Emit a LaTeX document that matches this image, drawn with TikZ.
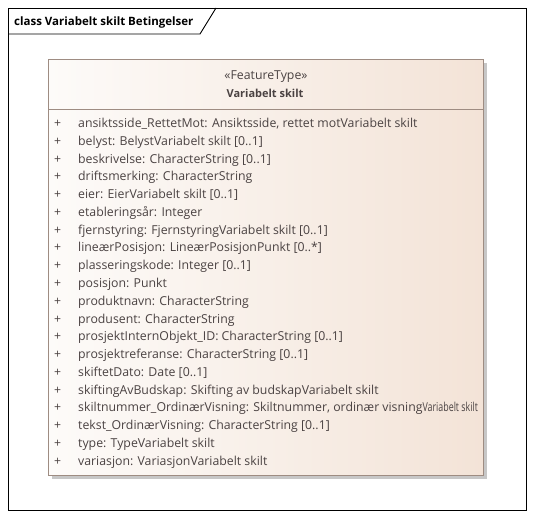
\documentclass[tikz,border=0pt]{standalone}
\usepackage{fontspec}
\setmainfont{Open Sans}
\usetikzlibrary{positioning,shadows}

\definecolor{umlline}{HTML}{9E8C82}
\definecolor{umltext}{HTML}{4A4242}
\definecolor{umlfillL}{HTML}{FDFBF9}
\definecolor{umlfillR}{HTML}{F3E3D7}

\begin{document}
\begin{tikzpicture}[
  x=1pt,y=-1pt,
  frame/.style={draw=black,line width=0.9pt},
  classbox/.style={draw=umlline,line width=0.8pt,left color=umlfillL,right color=umlfillR,
    anchor=north west,inner sep=0pt,
    drop shadow={shadow xshift=3.5pt,shadow yshift=-3.5pt,fill=black!22,opacity=1}},
  attr/.style={anchor=base west,inner sep=0pt,text=umltext,font=\fontsize{12.3}{14}\selectfont},
  every node/.style={text=umltext}
]
  \useasboundingbox (0,0) rectangle (534,519);

  % diagram frame with name tab
  \draw[frame] (8,8) rectangle (526,510);
  \coordinate (tabL) at (8,34);
  \coordinate (tabK) at (200,34);
  \coordinate (tabT) at (216,8);
  \draw[frame] (tabL) -- (tabK) -- (tabT);
  \node[anchor=base west,inner sep=0pt,text=black,font=\bfseries\fontsize{11.5}{13}\selectfont]
    (title) at (14,25.5) {class Variabelt skilt Betingelser};

  % the class
  \node[classbox,minimum width=435pt,minimum height=416pt] (cls) at (48,59) {};
  \coordinate (sepL) at (48,109);
  \coordinate (sepR) at (483,109);
  \draw[umlline,line width=0.8pt] (sepL) -- (sepR);
  \node[anchor=base,inner sep=0pt,font=\fontsize{12.3}{14}\selectfont] (stereo) at (266,79.5) {«FeatureType»};
  \node[anchor=base,inner sep=0pt,font=\bfseries\fontsize{11}{13}\selectfont] (cname) at (265,97.5) {Variabelt skilt};

  \foreach \txt [count=\i from 0] in {
    {ansiktsside\_RettetMot: Ansiktsside, rettet motVariabelt skilt},
    {belyst: BelystVariabelt skilt [0..1]},
    {beskrivelse: CharacterString [0..1]},
    {driftsmerking: CharacterString},
    {eier: EierVariabelt skilt [0..1]},
    {etableringsår: Integer},
    {fjernstyring: FjernstyringVariabelt skilt [0..1]},
    {lineærPosisjon: LineærPosisjonPunkt [0..*]},
    {plasseringskode: Integer [0..1]},
    {posisjon: Punkt},
    {produktnavn: CharacterString},
    {produsent: CharacterString},
    {prosjektInternObjekt\_ID: CharacterString [0..1]},
    {prosjektreferanse: CharacterString [0..1]},
    {skiftetDato: Date [0..1]},
    {skiftingAvBudskap: Skifting av budskapVariabelt skilt},
    {skiltnummer\_OrdinærVisning: Skiltnummer, ordinær visning\scalebox{0.72}[1]{Variabelt skilt}},
    {tekst\_OrdinærVisning: CharacterString [0..1]},
    {type: TypeVariabelt skilt},
    {variasjon: VariasjonVariabelt skilt}}
  {
    \node[attr] (plus\i) at (54,127.5+17.78*\i) {+};
    \node[attr] (att\i) at (78,127.5+17.78*\i) {\txt};
  }
\end{tikzpicture}
\end{document}
